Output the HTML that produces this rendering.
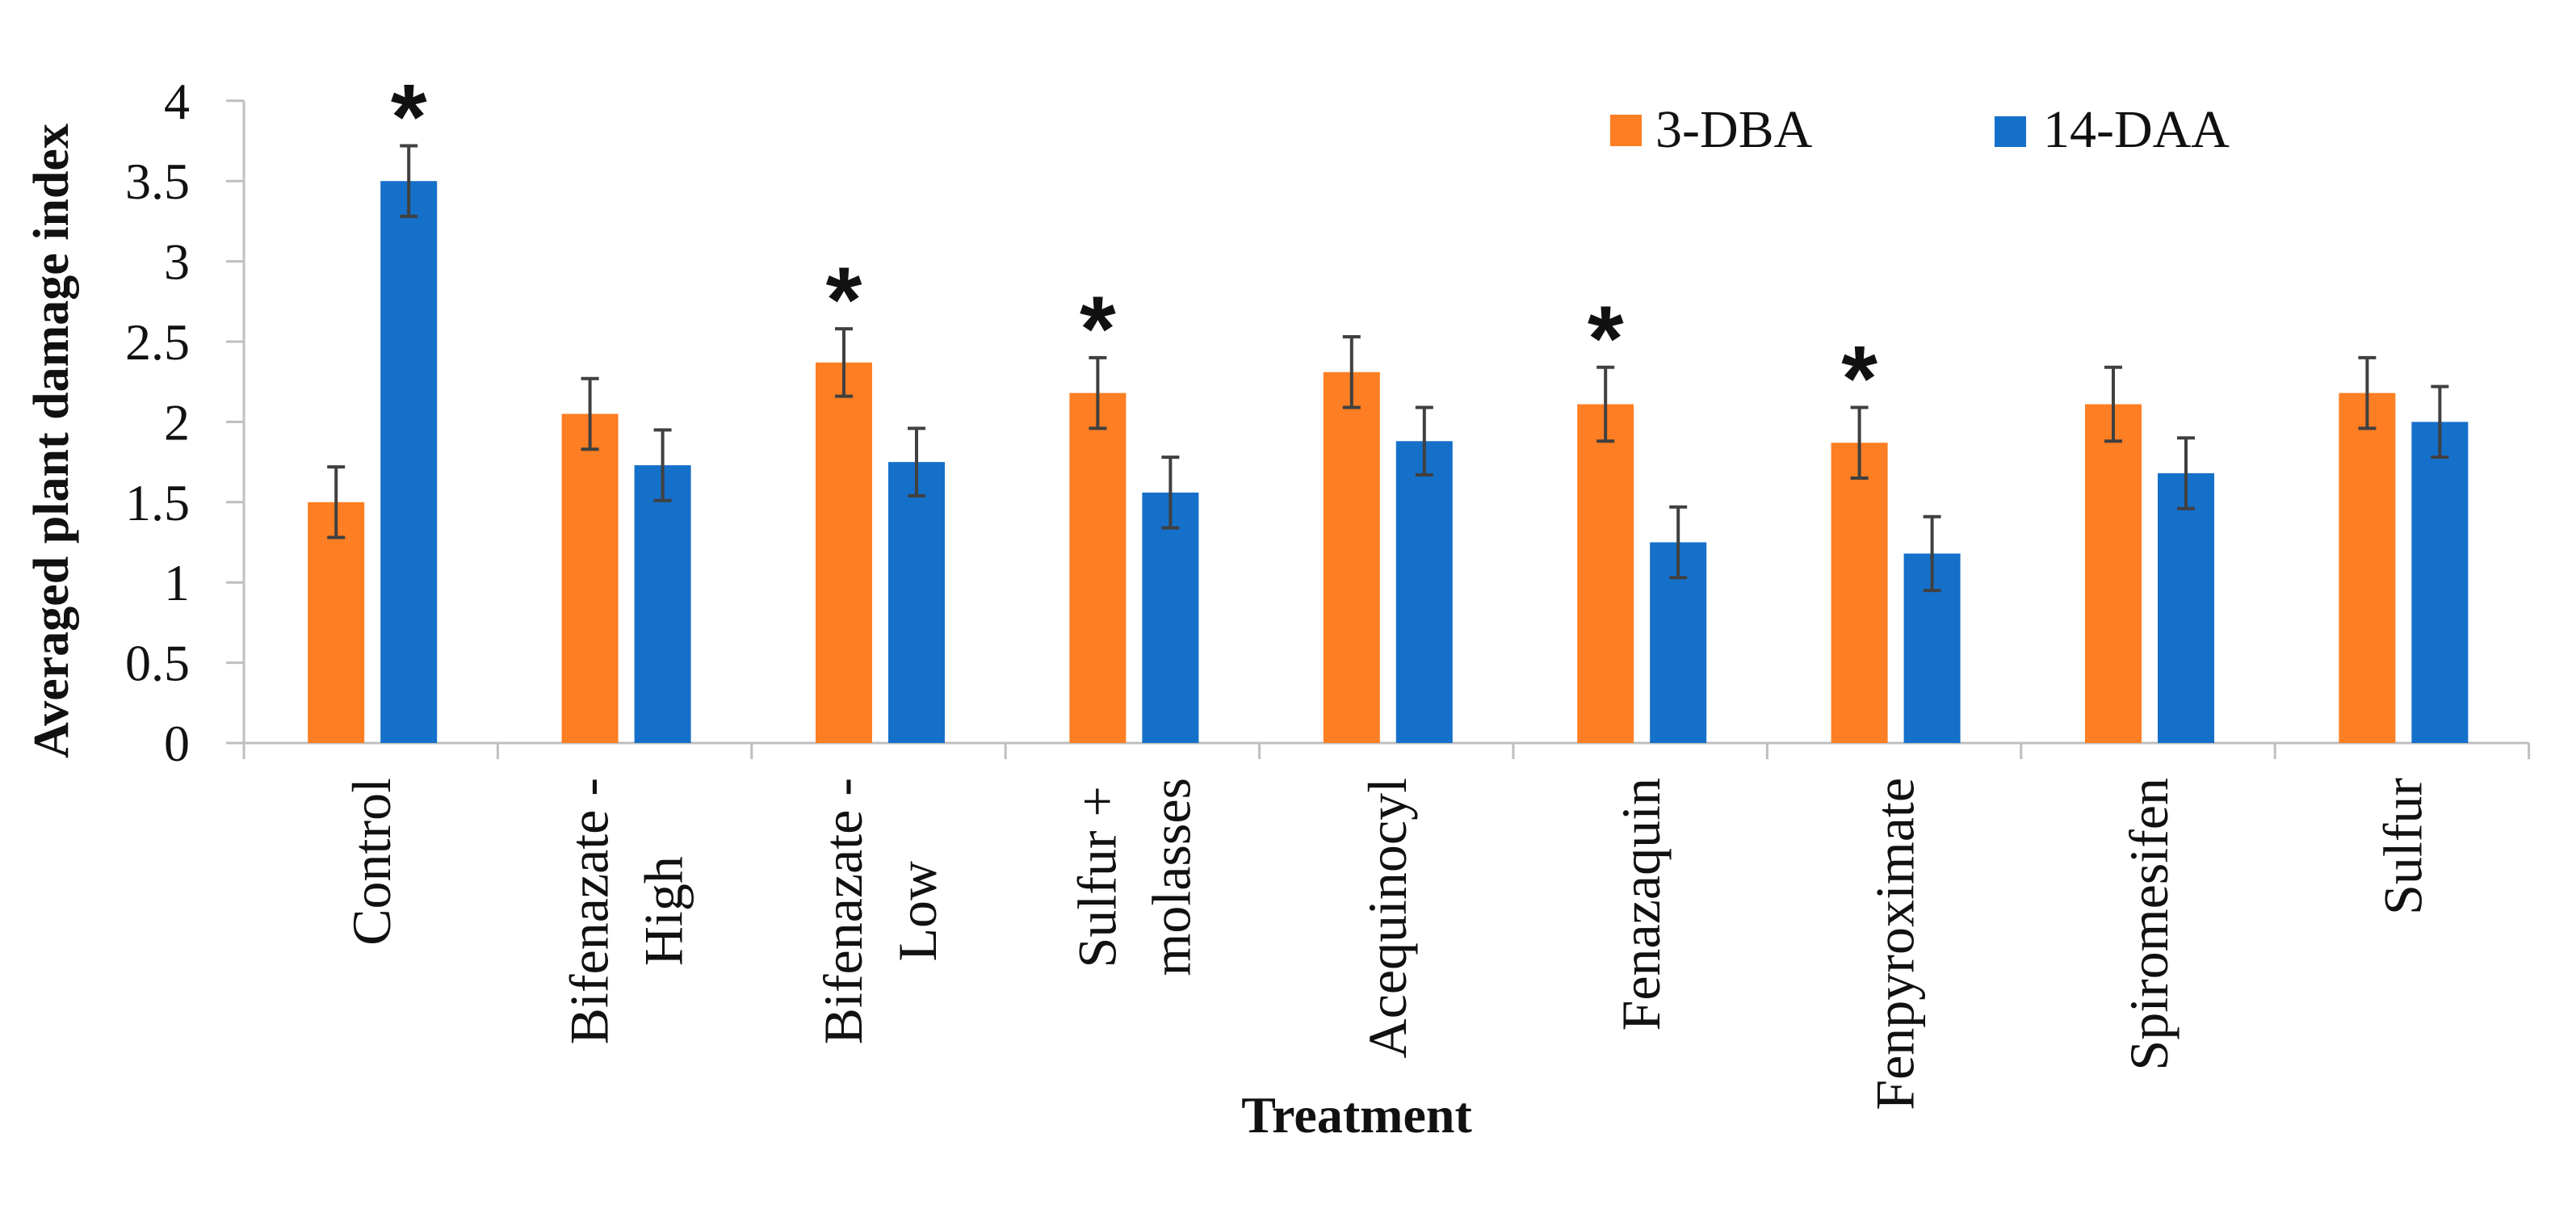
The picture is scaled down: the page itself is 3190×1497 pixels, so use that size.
<!DOCTYPE html>
<html><head><meta charset="utf-8"><style>
html,body{margin:0;padding:0;background:#fff}
svg{display:block}
text{font-family:"Liberation Serif",serif;fill:#111}
</style></head><body>
<svg id="chart" width="3190" height="1497" viewBox="0 0 3190 1497" xmlns="http://www.w3.org/2000/svg">
<g id="axes"></g>
<g id="bars"></g>
<g id="labels"></g>
<text transform="translate(84,546) rotate(-90)" text-anchor="middle" font-size="62" font-weight="bold">Averaged plant damage index</text>
<text x="1680" y="1402" text-anchor="middle" font-size="64" font-weight="bold">Treatment</text>
<g>
<rect x="1994" y="142" width="39" height="39" fill="#FD7E23"/>
<text x="2050" y="182" font-size="66">3-DBA</text>
<rect x="2470" y="144" width="39" height="38" fill="#1570C9"/>
<text x="2530" y="182" font-size="66">14-DAA</text>
</g>
</svg>
<script>
const categories = [["Control"],["Bifenazate -","High"],["Bifenazate -","Low"],["Sulfur +","molasses"],["Acequinocyl"],["Fenazaquin"],["Fenpyroximate"],["Spiromesifen"],["Sulfur"]];
const dba3 = [1.50, 2.05, 2.37, 2.18, 2.31, 2.11, 1.87, 2.11, 2.18];
const daa14 = [3.50, 1.73, 1.75, 1.56, 1.88, 1.25, 1.18, 1.68, 2.00];
const dba3Err = [0.22, 0.22, 0.21, 0.22, 0.22, 0.23, 0.22, 0.23, 0.22];
const daa14Err = [0.22, 0.22, 0.21, 0.22, 0.21, 0.22, 0.23, 0.22, 0.22];
const dba3Star = [false, false, true, true, false, true, true, false, false];
const daa14Star = [true, false, false, false, false, false, false, false, false];
const yTicks = [0, 0.5, 1, 1.5, 2, 2.5, 3, 3.5, 4];

const NS = "http://www.w3.org/2000/svg";
const X0 = 302, Y0 = 920, UNIT = 198.8, CW = 314.4;
const yScale = v => Y0 - v * UNIT;
const xCenter = i => X0 + (i + 0.5) * CW;
function mk(tag, attrs, parent){ const e = document.createElementNS(NS, tag); for (const k in attrs) e.setAttribute(k, attrs[k]); parent.appendChild(e); return e; }
const axes = document.getElementById('axes'), bars = document.getElementById('bars'), labels = document.getElementById('labels');

const yAxis = mk('line', {x1:X0, y1:yScale(4), x2:X0, y2:Y0+20, stroke:'#BFBFBF', 'stroke-width':3}, axes);


const xAxis = mk('line', {x1:X0-22, y1:Y0, x2:X0+9*CW, y2:Y0, stroke:'#BFBFBF', 'stroke-width':3}, axes);


yTicks.forEach(v => {
  const t = mk('line', {x1:X0-22, y1:yScale(v), x2:X0, y2:yScale(v), stroke:'#BFBFBF', 'stroke-width':3}, axes);
  
  
  const l = mk('text', {x:235, y:yScale(v)+22, 'text-anchor':'end', 'font-size':64}, axes);
  l.textContent = String(v);
  
  
});
for (let i = 0; i <= 9; i++) {
  const t = mk('line', {x1:X0+i*CW, y1:Y0, x2:X0+i*CW, y2:Y0+20, stroke:'#BFBFBF', 'stroke-width':3}, axes);
  
  
}
function drawBar(c, left, v, err, star, color, name){
  const r = mk('rect', {x:left, y:yScale(v), width:70, height:Y0-yScale(v), fill:color}, bars);
  
  
  const cx = left + 35;
  const e = mk('path', {d:`M${cx-11},${yScale(v+err)}H${cx+11}M${cx},${yScale(v+err)}V${yScale(v-err)}M${cx-11},${yScale(v-err)}H${cx+11}`, stroke:'#404040', 'stroke-width':4, fill:'none'}, bars);
  
  
  if (star) {
    const s = mk('text', {x:cx, y:yScale(v+err)+4, 'text-anchor':'middle', 'font-size':115, 'font-weight':'bold', style:'font-family:"Liberation Sans",sans-serif'}, bars);
    s.textContent = '*';
    
    
  }
}
categories.forEach((lines, i) => {
  const c = xCenter(i);
  drawBar(c, c-78, dba3[i], dba3Err[i], dba3Star[i], '#FD7E23', 'bar-3-dba');
  drawBar(c, c+12, daa14[i], daa14Err[i], daa14Star[i], '#1570C9', 'bar-14-daa');
  const offs = lines.length === 1 ? [24] : [-21, 71];
  const els = lines.map((ln, k) => {
    const t = mk('text', {transform:`translate(${c+offs[k]},963) rotate(-90)`, 'text-anchor':'end', 'font-size':68}, labels);
    t.textContent = ln;
    
    
    return t;
  });
  if (els.length > 1) {
    const lens = els.map(e => e.getComputedTextLength());
    const maxL = Math.max(...lens);
    const mid = 963 + maxL / 2;
    els.forEach((e, k) => {
      e.setAttribute('text-anchor', 'middle');
      e.setAttribute('transform', `translate(${c+offs[k]},${mid}) rotate(-90)`);
    });
  }
});
</script>
</body></html>
